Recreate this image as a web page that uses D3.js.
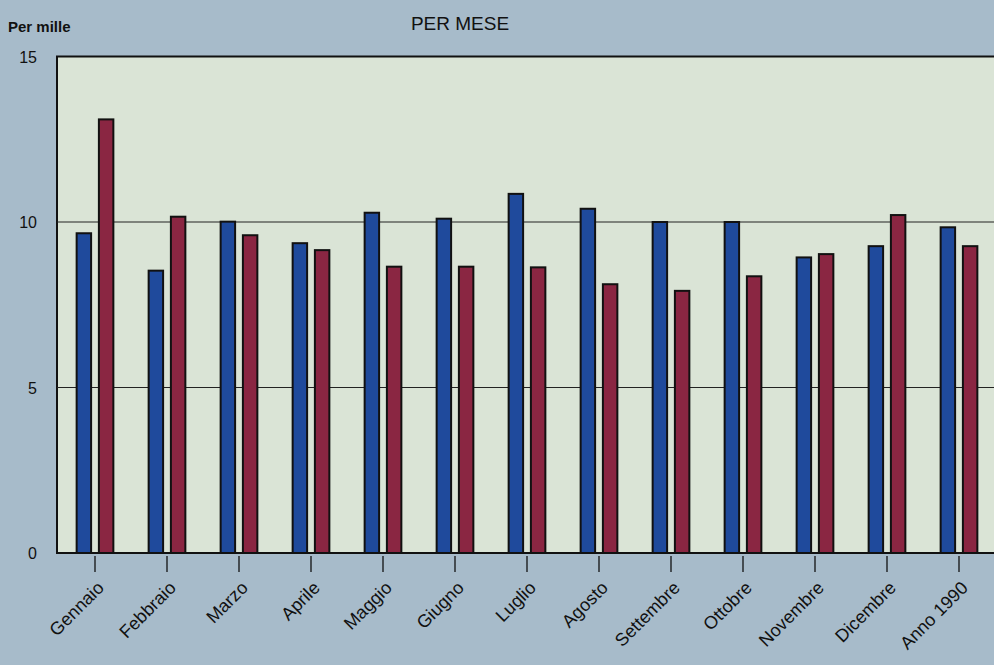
<!DOCTYPE html>
<html>
<head>
<meta charset="utf-8">
<script src="https://cdn.jsdelivr.net/npm/d3@7"></script>
<style>
  body { margin: 0; background: #a8bccb; }
  text { font-family: "Liberation Sans", Arial, sans-serif; fill: #111; }
</style>
</head>
<body>
<div id="chart_div"></div>
<script>
var months = ["Gennaio", "Febbraio", "Marzo", "Aprile", "Maggio", "Giugno", "Luglio",
    "Agosto", "Settembre", "Ottobre", "Novembre", "Dicembre", "Anno 1990"];
var series = ["blu", "rosso"];
var blu = [9.66, 8.53, 10.01, 9.36, 10.28, 10.1, 10.85, 10.4, 10.0, 10.0, 8.93, 9.27, 9.84];
var rosso = [13.1, 10.16, 9.6, 9.15, 8.65, 8.65, 8.63, 8.12, 7.92, 8.36, 9.03, 10.21, 9.27];
var y_ticks = [0, 5, 10, 15];

var colors = { blu: "#1f4a9c", rosso: "#8a2642" };

var rows = months.map(function(m, i) {
    return { month: m, blu: blu[i], rosso: rosso[i] };
});

var width = 994, height = 665;
var plot_left = 59, plot_right = 995, plot_top = 56.5, plot_bottom = 553;

var svg = d3.select("#chart_div")
    .append("svg")
    .attr("width", width)
    .attr("height", height);

svg.append("rect")
    .attr("width", width)
    .attr("height", height)
    .attr("fill", "#a7bbca");

var x = d3.scaleBand()
    .domain(months)
    .range([plot_left, plot_right])
    .paddingInner(0.49)
    .paddingOuter(0.245);

var x_sub = d3.scaleBand()
    .domain(series)
    .range([0, x.bandwidth()])
    .paddingInner(0.35);

var y = d3.scaleLinear()
    .domain([0, 15])
    .range([plot_bottom, plot_top]);

// plot area
svg.append("rect")
    .attr("x", plot_left - 2)
    .attr("y", y(15))
    .attr("width", width - plot_left + 10)
    .attr("height", y(0) - y(15))
    .attr("fill", "#dae4d6")
    .attr("stroke", "#111")
    .attr("stroke-width", 2);

// gridlines
svg.append("g")
    .selectAll("line")
    .data(y_ticks.filter(function(d) { return d > 0 && d < 15; }))
    .enter()
    .append("line")
    .attr("x1", plot_left - 2)
    .attr("x2", width)
    .attr("y1", function(d) { return y(d); })
    .attr("y2", function(d) { return y(d); })
    .attr("stroke", "#222")
    .attr("stroke-width", 1.2);

// bars
var groups = svg.append("g")
    .selectAll("g")
    .data(rows)
    .enter()
    .append("g")
    .attr("transform", function(d) { return "translate(" + x(d.month) + ",0)"; });

groups.selectAll("rect")
    .data(function(d) { return series.map(function(s) { return { key: s, value: d[s] }; }); })
    .enter()
    .append("rect")
    .attr("x", function(d) { return x_sub(d.key); })
    .attr("y", function(d) { return y(d.value); })
    .attr("width", x_sub.bandwidth())
    .attr("height", function(d) { return y(0) - y(d.value); })
    .attr("fill", function(d) { return colors[d.key]; })
    .attr("stroke", "#111")
    .attr("stroke-width", 2);

// baseline
svg.append("line")
    .attr("x1", plot_left - 2)
    .attr("x2", width)
    .attr("y1", y(0))
    .attr("y2", y(0))
    .attr("stroke", "#111")
    .attr("stroke-width", 2);

// x axis
var x_axis = svg.append("g")
    .attr("transform", "translate(0," + (plot_bottom + 3) + ")")
    .call(d3.axisBottom(x).tickSize(16).tickSizeOuter(0));
x_axis.select(".domain").remove();
x_axis.selectAll(".tick line").attr("stroke", "#111").attr("stroke-width", 1.3);
x_axis.selectAll(".tick text")
    .attr("font-size", 18)
    .attr("font-family", "Liberation Sans, Arial, sans-serif")
    .attr("fill", "#111")
    .attr("text-anchor", "end")
    .attr("dy", 0)
    .attr("transform", "translate(10,33) rotate(-45)")
    .attr("y", 0)
    .attr("x", 0);

// y axis labels
var y_axis = svg.append("g")
    .attr("transform", "translate(37,0)")
    .call(d3.axisLeft(y).tickValues(y_ticks).tickSize(0).tickFormat(d3.format("d")));
y_axis.select(".domain").remove();
y_axis.selectAll(".tick text")
    .attr("font-size", 16)
    .attr("font-family", "Liberation Sans, Arial, sans-serif")
    .attr("fill", "#111")
    .attr("x", 0)
    .attr("dy", "0.35em");

svg.append("text")
    .attr("x", 8)
    .attr("y", 32)
    .attr("font-size", 15)
    .attr("font-weight", "bold")
    .attr("fill", "#1a1a1a")
    .text("Per mille");

svg.append("text")
    .attr("x", 460)
    .attr("y", 30)
    .attr("text-anchor", "middle")
    .attr("font-size", 19)
    .text("PER MESE");
</script>
</body>
</html>
